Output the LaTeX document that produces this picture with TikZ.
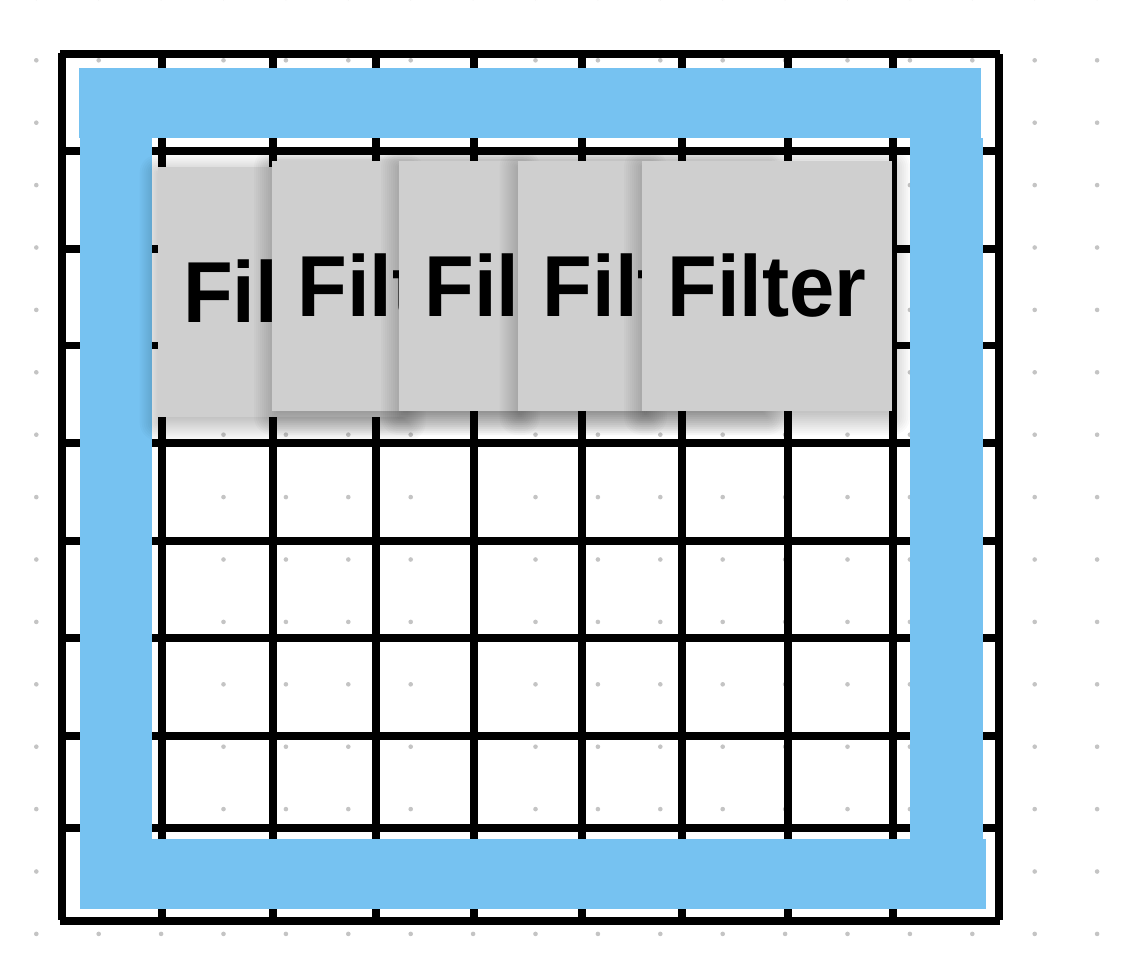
\documentclass[tikz,border=0pt]{standalone}
\usepackage{fontspec}
\setmainfont{Liberation Sans}
\usepackage{graphicx}
\definecolor{framblue}{HTML}{76C2F1}
\definecolor{cardgray}{HTML}{CFCFCF}
\definecolor{dotgray}{HTML}{C4C4C4}
\tikzset{
  gridline/.style={line width=7.6pt, black, line cap=butt},
  bluefill/.style={fill=framblue},
  shadowlayer/.style={fill=black, fill opacity=0.018},
  card/.style={fill=cardgray, minimum width=250pt, minimum height=250pt, inner sep=0pt,
    font=\bfseries\fontsize{86.6}{90}\selectfont},
}
\newcommand{\filtertxt}{\raisebox{-3pt}{\scalebox{0.94}[1]{Filter}}}
% soft shadow: left, top, right, bottom (y grows downwards)
\newcommand{\softshade}[4]{%
  \foreach \s [evaluate=\s as \r using {max(\s,0.5)}] in {-8,-6,...,18}{
    \fill[shadowlayer, rounded corners=\r pt] ({#1-\s},{#2-\s+6}) rectangle ({#3+\s},{#4+\s+6});
  }%
}
\begin{document}
\begin{tikzpicture}[x=1pt,y=-1pt]
\useasboundingbox (0,0) rectangle (1124,972);
\fill[white] (0,0) rectangle (1124,972);
% dot background
\foreach \i in {0,...,17}{
  \foreach \j in {-1,...,14}{
    \fill[dotgray] ({36.3+62.4*\i},{60.3+62.4*\j}) circle (2.3pt);
  }
}
% inner grid lines
\foreach \gx in {162,273,376,474,582,682,788,893}{
  \draw[gridline] (\gx,54) -- (\gx,920.7);
}
\foreach \gy in {151,249,345.5,443,541,638,736,828}{
  \draw[gridline] (62,\gy) -- (999,\gy);
}
% outer frame
\draw[gridline] (60,54) -- (1000,54);
\draw[gridline] (60,920.7) -- (1000,920.7);
\draw[gridline] (62,53) -- (62,920);
\draw[gridline] (999,54) -- (999,920);
% blue frame
\fill[bluefill] (79,68) rectangle (981,138);
\fill[bluefill] (80,68) rectangle (152,909);
\fill[bluefill] (910,138) rectangle (982.5,909);
\fill[bluefill] (80,839) rectangle (986,909);
% cards
\softshade{157.7}{166.7}{407.7}{416.7}
\node[card] (c1) at (282.7,291.7) {\filtertxt};
\softshade{272}{161}{522}{411}
\node[card] (c2) at (397,286) {\filtertxt};
\softshade{399}{161}{649}{411}
\node[card] (c3) at (524,286) {\filtertxt};
\softshade{517.5}{161}{767.5}{411}
\node[card] (c4) at (642.5,286) {\filtertxt};
\softshade{642}{161}{892}{411}
\node[card] (c5) at (767,286) {\filtertxt};
\end{tikzpicture}
\end{document}
